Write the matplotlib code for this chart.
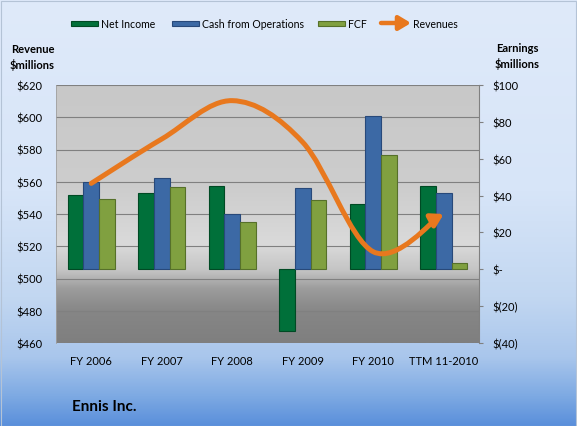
import numpy as np
import matplotlib
matplotlib.use('Agg')
import matplotlib.pyplot as plt
from matplotlib.colors import LinearSegmentedColormap
from matplotlib.path import Path
from matplotlib.patches import FancyArrowPatch, ArrowStyle, Rectangle

# data
categories = ['FY 2006', 'FY 2007', 'FY 2008', 'FY 2009', 'FY 2010', 'TTM 11-2010']
net_income = [40.5, 41.6, 45.0, -33.3, 35.6, 45.0]
cash_from_ops = [47.2, 49.5, 30.2, 44.0, 83.0, 41.6]
fcf = [38.1, 44.7, 25.8, 37.4, 62.2, 3.4]
revenues = [559.0, 586.5, 610.3, 584.5, 516.6, 540.0]

rev_ticks = list(range(460, 621, 20))
earn_ticks = list(range(-40, 101, 20))

plt.rcParams['font.family'] = ['Lato', 'DejaVu Sans']

W, H = 577, 427
ORANGE = '#e8781e'


def fx(px):
    return px / W


def fy(py):
    return 1 - py / H


def earn_fmt(v):
    if v == 0:
        return '$-'
    if v < 0:
        return f'$({-v})'
    return f'${v}'


def smooth_path(xs, ys):
    """Bezier path through the points, like Excel's smoothed line"""
    pts = np.column_stack([xs, ys]).astype(float)
    n = len(pts)
    verts = [pts[0]]
    codes = [Path.MOVETO]
    for i in range(n - 1):
        p0 = pts[max(i - 1, 0)]
        p1 = pts[i]
        p2 = pts[i + 1]
        p3 = pts[min(i + 2, n - 1)]
        verts += [p1 + (p2 - p0) / 6, p2 - (p3 - p1) / 6, p2]
        codes += [Path.CURVE4] * 3
    return Path(verts, codes)


fig = plt.figure(figsize=(W / 100, H / 100), dpi=100)

# figure background gradient
bg_cmap = LinearSegmentedColormap.from_list('bg', [
    (0.0, '#dfeafa'), (0.45, '#d7e5f8'), (0.7, '#c2d7f1'),
    (0.84, '#a9c6ec'), (0.93, '#7eaae3'), (1.0, '#5a8fdb')])
bg = fig.add_axes([0, 0, 1, 1], zorder=-10)
bg.imshow(np.linspace(0, 1, 256).reshape(-1, 1), aspect='auto',
          cmap=bg_cmap, extent=[0, 1, 0, 1])
bg.axis('off')
fig.add_artist(Rectangle((0.5 / W, 0.5 / H), 1 - 2 / W, 1 - 2 / H,
                         transform=fig.transFigure, fill=False,
                         edgecolor='#b4c3d6', lw=0.8))

# main axes (revenue, left)
ax = fig.add_axes([fx(56), fy(344), fx(479) - fx(56), fy(86) - fy(344)])
plot_cmap = LinearSegmentedColormap.from_list('plot', [
    (0.0, '#c8c8c8'), (0.4, '#cdcdcd'), (0.62, '#dadada'), (0.72, '#c4c4c4'),
    (0.79, '#9c9c9c'), (0.88, '#868686'), (1.0, '#7f7f7f')])
ax.imshow(np.linspace(0, 1, 256).reshape(-1, 1), aspect='auto', cmap=plot_cmap,
          extent=[-0.5, len(categories) - 0.5, rev_ticks[0], rev_ticks[-1]], zorder=-5)
ax.set_xlim(-0.5, len(categories) - 0.5)
ax.set_ylim(rev_ticks[0], rev_ticks[-1])
ax.set_yticks(rev_ticks)
ax.set_yticklabels([f'${v}' for v in rev_ticks])
ax.yaxis.grid(True, color='#808080', lw=0.8)
ax.set_xticks(range(len(categories)))
ax.set_xticklabels(categories)
ax.tick_params(axis='y', length=0, pad=10, labelsize=8)
ax.tick_params(axis='x', length=0, pad=9, labelsize=8)
for side in ['top', 'bottom', 'right']:
    ax.spines[side].set_visible(False)
ax.spines['left'].set_color('#a0a0a0')
ax.spines['left'].set_linewidth(0.6)

# bars (earnings, right)
ax2 = ax.twinx()
ax2.set_ylim(earn_ticks[0], earn_ticks[-1])
ax2.set_yticks(earn_ticks)
ax2.set_yticklabels([earn_fmt(v) for v in earn_ticks])
ax2.tick_params(axis='y', length=3, color='#808080', pad=7, labelsize=8)
for side in ['top', 'bottom', 'left']:
    ax2.spines[side].set_visible(False)
ax2.spines['right'].set_color('#808080')
ax2.spines['right'].set_linewidth(0.8)

x = np.arange(len(categories))
w = 0.22
ax2.bar(x - w, net_income, w, color='#00703a', edgecolor='#004a24', lw=0.8)
ax2.bar(x, cash_from_ops, w, color='#3c69a5', edgecolor='#28497a', lw=0.8)
ax2.bar(x + w, fcf, w, color='#80a040', edgecolor='#56702a', lw=0.8)

# revenue line on top
ax3 = ax.twinx()
ax3.set_ylim(rev_ticks[0], rev_ticks[-1])
ax3.set_yticks([])
for side in ax3.spines:
    ax3.spines[side].set_visible(False)
arrow = FancyArrowPatch(path=smooth_path(x, revenues),
                        arrowstyle=ArrowStyle('-|>', head_length=7, head_width=4.2),
                        mutation_scale=1, color=ORANGE, lw=3.6,
                        capstyle='round', joinstyle='round')
ax3.add_patch(arrow)

# axis titles
fig.text(fx(32.5), fy(57.5), 'Revenue\n$millions', ha='center', va='center',
         fontsize=8, fontweight='bold', linespacing=1.35)
fig.text(fx(517), fy(56.5), 'Earnings\n$millions', ha='center', va='center',
         fontsize=8, fontweight='bold', linespacing=1.35)

# legend along the top
legend_items = [(71, 'Net Income', '#00703a', '#004a24'),
                (172, 'Cash from Operations', '#3c69a5', '#28497a'),
                (318, 'FCF', '#80a040', '#56702a')]
for x0, label, fc, ec in legend_items:
    fig.add_artist(Rectangle((fx(x0), fy(26.5)), 27 / W, 5 / H, transform=fig.transFigure,
                             facecolor=fc, edgecolor=ec, lw=0.8))
    fig.text(fx(x0 + 30), fy(24), label, va='center', fontsize=7.6)
fig.add_artist(FancyArrowPatch((fx(381), fy(24)), (fx(411), fy(24)), transform=fig.transFigure,
                               arrowstyle=ArrowStyle('-|>', head_length=7, head_width=4.2),
                               mutation_scale=1, color=ORANGE, lw=3.2,
                               shrinkA=0, shrinkB=0))
fig.text(fx(413), fy(24), 'Revenues', va='center', fontsize=7.6)

fig.text(fx(72), fy(407), 'Ennis Inc.', va='center', fontsize=11, fontweight='bold')

fig.savefig('out.png', dpi=100)
